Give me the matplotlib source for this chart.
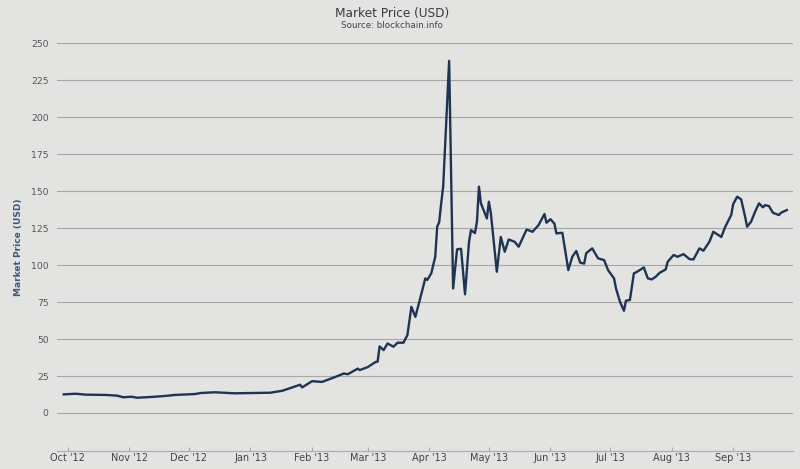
import pandas as pd
import matplotlib
matplotlib.use("Agg")
import matplotlib.pyplot as plt
import matplotlib.dates as mdates

# daily market price (USD)
dates = [
    "2012-09-29", "2012-10-05", "2012-10-10", "2012-10-20", "2012-10-26", "2012-10-29",
    "2012-11-02", "2012-11-05", "2012-11-14", "2012-11-19", "2012-11-24",
    "2012-12-04", "2012-12-07", "2012-12-14", "2012-12-24",
    "2013-01-03", "2013-01-11", "2013-01-17", "2013-01-22", "2013-01-26", "2013-01-27",
    "2013-02-01", "2013-02-06", "2013-02-12", "2013-02-17", "2013-02-19", "2013-02-24",
    "2013-02-25", "2013-03-01", "2013-03-05", "2013-03-06", "2013-03-07", "2013-03-09",
    "2013-03-11", "2013-03-14", "2013-03-16", "2013-03-19", "2013-03-21", "2013-03-23",
    "2013-03-25", "2013-03-27", "2013-03-30", "2013-03-31",
    "2013-04-02", "2013-04-04", "2013-04-05", "2013-04-06", "2013-04-07", "2013-04-08",
    "2013-04-11", "2013-04-13", "2013-04-15", "2013-04-17", "2013-04-19", "2013-04-21",
    "2013-04-22", "2013-04-24", "2013-04-25", "2013-04-26", "2013-04-27", "2013-04-30",
    "2013-05-01", "2013-05-02", "2013-05-05", "2013-05-07", "2013-05-09", "2013-05-11",
    "2013-05-14", "2013-05-16", "2013-05-20", "2013-05-23", "2013-05-26", "2013-05-29",
    "2013-05-30", "2013-06-01", "2013-06-03", "2013-06-04", "2013-06-07", "2013-06-10",
    "2013-06-12", "2013-06-14", "2013-06-16", "2013-06-18", "2013-06-19", "2013-06-22",
    "2013-06-25", "2013-06-28", "2013-06-30", "2013-07-03", "2013-07-04", "2013-07-06",
    "2013-07-08", "2013-07-09", "2013-07-11", "2013-07-13", "2013-07-14", "2013-07-16",
    "2013-07-18", "2013-07-20", "2013-07-22", "2013-07-24", "2013-07-26", "2013-07-29",
    "2013-07-30", "2013-08-02", "2013-08-04", "2013-08-07", "2013-08-10", "2013-08-12",
    "2013-08-15", "2013-08-17", "2013-08-20", "2013-08-22", "2013-08-26", "2013-08-28",
    "2013-08-31", "2013-09-01", "2013-09-03", "2013-09-05", "2013-09-07", "2013-09-08",
    "2013-09-10", "2013-09-12", "2013-09-14", "2013-09-16", "2013-09-17", "2013-09-19",
    "2013-09-21", "2013-09-24", "2013-09-25", "2013-09-28",
]
prices = [
    12.6, 13.0, 12.4, 12.2, 11.7, 10.6,
    11.0, 10.3, 11.0, 11.5, 12.2,
    12.8, 13.5, 14.0, 13.3,
    13.5, 13.7, 15.0, 17.3, 19.1, 17.3,
    21.5, 21.0, 24.0, 26.7, 26.2, 30.0,
    29.0, 31.0, 34.5, 34.7, 45.0, 42.5,
    47.0, 44.8, 47.5, 47.5, 52.7, 71.8,
    65.0, 75.2, 91.0, 89.9,
    94.4, 105.6, 126.0, 129.0, 141.7, 153.0,
    238.0, 84.2, 110.6, 111.0, 80.2, 115.7,
    123.6, 121.6, 129.3, 153.0, 141.7, 131.5,
    142.8, 135.0, 95.5, 119.0, 109.0, 117.3,
    115.7, 112.4, 124.0, 122.5, 127.0, 134.5,
    128.6, 131.0, 128.0, 121.4, 121.8, 96.6,
    105.6, 109.5, 101.6, 101.0, 108.0, 111.3,
    104.5, 103.4, 96.6, 91.0, 84.2, 75.2,
    69.1, 75.9, 76.4, 94.4, 95.0, 96.6,
    98.4, 91.0, 90.3, 92.1, 94.8, 97.0,
    102.2, 106.8, 105.6, 107.4, 104.0, 103.8,
    111.3, 109.7, 115.7, 122.5, 119.0, 125.9,
    133.8, 141.2, 146.2, 144.4, 132.6, 125.9,
    129.3, 136.0, 141.7, 139.0, 140.5, 139.9,
    135.3, 133.8, 135.3, 137.2,
]
yticks = list(range(0, 251, 25))
month_ticks = pd.date_range("2012-10-01", "2013-09-01", freq="MS")

bg = "#e3e3e1"
x = pd.to_datetime(dates)

fig = plt.figure(figsize=(8, 4.69), dpi=100, facecolor=bg)
ax = fig.add_axes([0.071, 0.039, 0.92, 0.869])
ax.set_facecolor(bg)

ax.plot(x, prices, color="#1e3452", lw=1.7, solid_joinstyle="round")

ax.set_ylim(-25.5, 250)
ax.set_xlim(pd.Timestamp("2012-09-25 12:00"), pd.Timestamp("2013-10-01"))
ax.set_yticks(yticks)
ax.yaxis.grid(True, color="#a6a6a6", lw=0.8)
ax.set_axisbelow(True)
ax.tick_params(axis="y", length=0, pad=6, labelsize=6.7, labelcolor="#555555")

ax.set_xticks(month_ticks)
ax.xaxis.set_major_formatter(mdates.DateFormatter("%b '%y"))
ax.tick_params(axis="x", direction="in", length=3, color="#aaaaaa",
               labelsize=7, labelcolor="#444444", pad=2)

for side in ["left", "right", "top"]:
    ax.spines[side].set_visible(False)
ax.spines["bottom"].set_color("#a8b0b8")
ax.spines["bottom"].set_linewidth(0.9)

ax.set_ylabel("Market Price (USD)", fontsize=6.5, fontweight="bold",
              color="#3c5a7c", labelpad=6)

fig.text(0.49, 0.972, "Market Price (USD)", ha="center", va="center",
         fontsize=8.7, color="#3a3a3a")
fig.text(0.49, 0.945, "Source: blockchain.info", ha="center", va="center",
         fontsize=6.3, color="#444444")

fig.savefig("out.png", dpi=100, facecolor=bg)
